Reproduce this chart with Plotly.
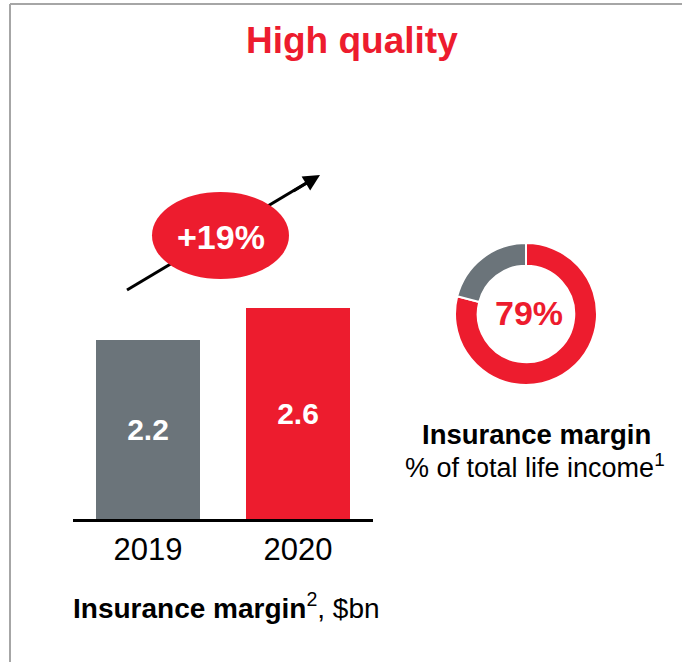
import plotly.graph_objects as go

RED = "#ED1C2E"
GREY = "#6B747A"
FONT = "Liberation Sans, Arial, sans-serif"

years = ["2019", "2020"]
margin_bn = [2.2, 2.6]
bar_labels = ["2.2", "2.6"]
growth_label = "+19%"

share_labels = ["Insurance margin", "Other"]
share_values = [79, 21]
share_label = "79%"

W, H = 682, 662


def px(x):
    return x / W


def py(y):
    return 1 - y / H


fig = go.Figure()

fig.add_trace(
    go.Bar(
        x=years,
        y=margin_bn,
        text=bar_labels,
        textposition="inside",
        insidetextanchor="middle",
        textfont=dict(family=FONT, size=30, color="white", weight="bold"),
        marker_color=[GREY, RED],
        marker_line_width=0,
        width=0.693,
        hoverinfo="x+y",
        showlegend=False,
    )
)

fig.add_trace(
    go.Pie(
        labels=share_labels,
        values=share_values,
        hole=0.68,
        sort=False,
        direction="clockwise",
        rotation=0,
        marker=dict(colors=[RED, GREY], line=dict(color="white", width=2)),
        textinfo="none",
        domain=dict(x=[px(455), px(597)], y=[py(385), py(243)]),
        showlegend=False,
    )
)

# frame lines at top and left
fig.add_shape(type="line", xref="paper", yref="paper", x0=px(10), x1=1, y0=py(4), y1=py(4),
              line=dict(color="#A6A6A6", width=2))
fig.add_shape(type="line", xref="paper", yref="paper", x0=px(10), x1=px(10), y0=0, y1=py(4),
              line=dict(color="#A6A6A6", width=2))

# growth arrow shaft, then the ellipse on top of it
fig.add_shape(type="line", xref="paper", yref="paper", x0=px(127), y0=py(290), x1=px(308), y1=py(182),
              line=dict(color="black", width=3), layer="above")
fig.add_shape(type="circle", xref="paper", yref="paper",
              x0=px(152), x1=px(289), y0=py(279), y1=py(192),
              fillcolor=RED, line_width=0, layer="above")


def label(x, y, text, size, color="black"):
    return dict(x=px(x), y=py(y), xref="paper", yref="paper", showarrow=False,
                xanchor="center", yanchor="middle", text=text,
                font=dict(family=FONT, size=size, color=color))


annotations = [
    # arrow head
    dict(x=px(320), y=py(175), xref="paper", yref="paper", ax=-28, ay=17,
         showarrow=True, arrowhead=2, arrowsize=1.1, arrowwidth=3, arrowcolor="black", text=""),
    label(221, 237, "<b>" + growth_label + "</b>", 34, "white"),
    label(352, 41, "<b>High quality</b>", 37, RED),
    label(529, 313, "<b>" + share_label + "</b>", 34, RED),
    label(536, 434, "<b>Insurance margin</b>", 27.5),
    label(535, 466, "% of total life income<sup>1</sup>", 27),
    label(226, 606, "<b>Insurance margin</b><sup>2</sup>, $bn", 28),
]

fig.update_layout(
    width=W,
    height=H,
    margin=dict(l=0, r=0, t=0, b=0),
    paper_bgcolor="white",
    plot_bgcolor="white",
    annotations=annotations,
    xaxis=dict(
        domain=[px(73), px(373)],
        range=[-0.5, 1.5],
        showline=True,
        linecolor="black",
        linewidth=3,
        showgrid=False,
        zeroline=False,
        ticks="",
        tickfont=dict(family=FONT, size=31, color="black"),
        ticklabelstandoff=1,
        fixedrange=True,
    ),
    yaxis=dict(
        domain=[1 - 519 / H, 0.75],
        range=[0, (519 - H * 0.25) / 81.45],
        visible=False,
        fixedrange=True,
    ),
    bargap=0,
)

fig.write_html("out.html", config={"displayModeBar": False},
               post_script="document.body.style.margin='0';")
